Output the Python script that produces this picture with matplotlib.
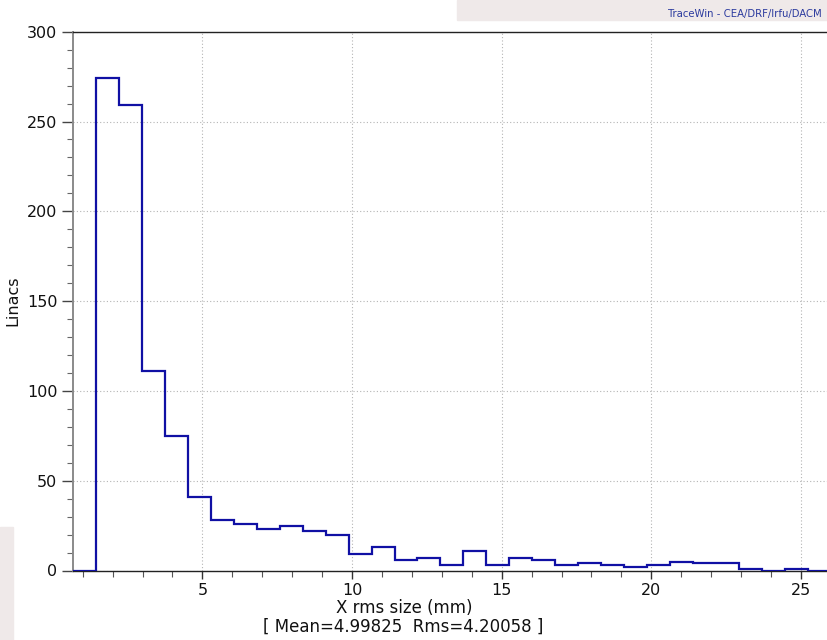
import numpy as np
import matplotlib
matplotlib.use("Agg")
import matplotlib.pyplot as plt
from matplotlib.ticker import MultipleLocator

# Data: histogram of X rms size (mm), uniform bins
bin_start = 0.667
bin_width = 0.768
counts = [0, 274, 259, 111, 75, 41, 28, 26, 23, 25, 22, 20, 9, 13, 6, 7,
          3, 11, 3, 7, 6, 3, 4, 3, 2, 3, 5, 4, 4, 1, 0, 1, 0, 0]
x_ticks = [5, 10, 15, 20, 25]
y_ticks = [0, 50, 100, 150, 200, 250, 300]
title = "TraceWin - CEA/DRF/Irfu/DACM"
xlabel = "X rms size (mm)"
stats = "[ Mean=4.99825  Rms=4.20058 ]"
ylabel = "Linacs"

edges = bin_start + bin_width * np.arange(len(counts) + 1)

W, H = 827, 640
fig = plt.figure(figsize=(W / 100, H / 100), dpi=100)
fig.patch.set_facecolor("white")

# pinkish page background fragments
pink = "#efe9e9"
fig.patches.append(plt.Rectangle((457 / W, 1 - 20 / H), 1, 20 / H,
                                 transform=fig.transFigure, color=pink, zorder=0))
fig.patches.append(plt.Rectangle((0, 0), 13 / W, (H - 527) / H,
                                 transform=fig.transFigure, color=pink, zorder=0))

left = 72.7 / W
bottom = (H - 570.5) / H
top = (H - 31.7) / H
right_px = 840
ax = fig.add_axes([left, bottom, (right_px - 72.7) / W, top - bottom])
ax.set_facecolor("white")

ax.stairs(counts, edges, color="#1010a4", linewidth=1.6, zorder=3)

ax.set_xlim(bin_start, bin_start + (right_px - 72.7) / 29.93)
ax.set_ylim(0, 300)
ax.set_xticks(x_ticks)
ax.set_yticks(y_ticks)
ax.xaxis.set_minor_locator(MultipleLocator(1))
ax.yaxis.set_minor_locator(MultipleLocator(10))

ax.grid(True, which="major", linestyle=(0, (1, 2)), color="#b4b4b4", linewidth=0.8, zorder=1)
ax.tick_params(axis="both", which="major", labelsize=11.5, colors="#222222",
               labelcolor="#111111", direction="out")
ax.tick_params(axis="y", which="major", length=8, width=1.0, color="#444444", pad=3)
ax.tick_params(axis="y", which="minor", length=4, width=0.8, color="#666666")
ax.tick_params(axis="x", which="major", length=6, width=1.0, color="#333333", pad=3)
ax.tick_params(axis="x", which="minor", length=4, width=0.8, color="#555555")

ax.spines["left"].set_color("#8a8a8a")
ax.spines["left"].set_linewidth(1.4)
ax.spines["bottom"].set_color("#222222")
ax.spines["bottom"].set_linewidth(1.0)
ax.spines["top"].set_color("#222222")
ax.spines["top"].set_linewidth(1.0)
ax.spines["right"].set_visible(False)

ax.set_ylabel(ylabel, fontsize=11.5, labelpad=5, color="#111111")

fig.text(404 / W, 1 - 608 / H, xlabel, ha="center", va="center", fontsize=12, color="#111111")
fig.text(403 / W, 1 - 627 / H, stats, ha="center", va="center", fontsize=12, color="#111111")
fig.text(668 / W, 1 - 14 / H, title, ha="left", va="center", fontsize=8.1,
         color="#2b3a9e", fontstretch="condensed")

fig.savefig("out.png", dpi=100)
